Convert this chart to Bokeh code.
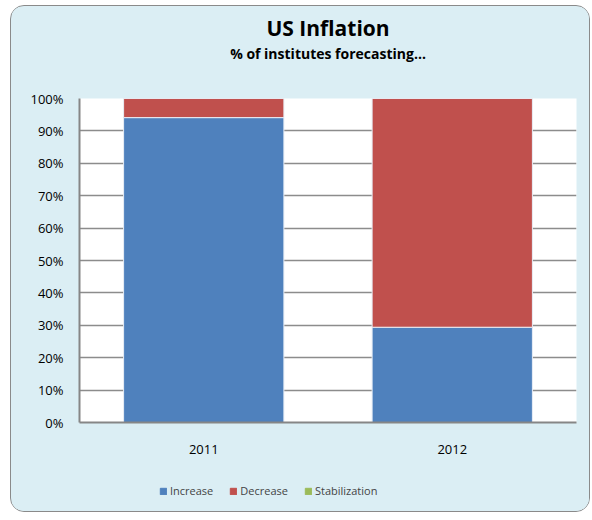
from bokeh.plotting import figure
from bokeh.layouts import column
from bokeh.models import FactorRange, Range1d, NumeralTickFormatter, Legend, LegendItem, Title, FixedTicker
from bokeh.embed import file_html
from bokeh.resources import INLINE

years = ["2011", "2012"]
increase = [0.941, 0.294]
decrease = [0.059, 0.706]
stabilization = [0.0, 0.0]
series = ["Increase", "Decrease", "Stabilization"]
colors = ["#4F81BD", "#C0504D", "#9BBB59"]
y_ticks = [0, 0.1, 0.2, 0.3, 0.4, 0.5, 0.6, 0.7, 0.8, 0.9, 1.0]

FONT = "Open Sans"
BG = "#DBEEF4"
data = {"years": years, "Increase": increase, "Decrease": decrease, "Stabilization": stabilization}

p = figure(x_range=FactorRange(*years, range_padding=0), y_range=Range1d(0, 1),
           frame_width=497, frame_height=324, output_backend="svg", toolbar_location=None,
           min_border_left=68, min_border_right=13, min_border_top=92, min_border_bottom=45,
           background_fill_color="white", border_fill_color=BG, outline_line_color=None)

p.vbar_stack(series, x="years", width=0.645, color=colors, line_color="#e8eef6", line_width=1, source=data)

p.add_layout(Title(text=" ", text_font=FONT, text_font_size="1px", standoff=33), "above")
p.add_layout(Title(text="% of institutes forecasting...", align="center", text_font=FONT,
                   text_font_size="14px", text_font_style="bold", text_color="black", standoff=0,
                   text_line_height=0.8), "above")
p.add_layout(Title(text="US Inflation", align="center", text_font=FONT,
                   text_font_size="21px", text_font_style="bold", text_color="black", standoff=0), "above")

p.yaxis.ticker = FixedTicker(ticks=y_ticks)
p.yaxis.formatter = NumeralTickFormatter(format="0%")
for ax in (p.xaxis[0], p.yaxis[0]):
    ax.axis_line_color = "#868686"
    ax.axis_line_width = 2
    ax.major_tick_line_color = None
    ax.minor_tick_line_color = None
    ax.major_label_text_font = FONT
    ax.major_label_text_font_size = "13px"
    ax.major_label_text_color = "black"
p.yaxis.major_label_standoff = 10
p.xaxis.major_label_standoff = 16

p.xgrid.grid_line_color = None
p.ygrid.grid_line_color = "#8c8c8c"
p.ygrid.grid_line_width = 1.5

# legend strip below the chart (bars kept outside its visible y range)
lg = figure(x_range=FactorRange(*years), y_range=Range1d(2, 3), width=578, height=44,
            output_backend="svg", toolbar_location=None, x_axis_location=None, y_axis_location=None,
            min_border=0, min_border_left=0, min_border_right=0, min_border_top=0, min_border_bottom=0,
            background_fill_color=BG, border_fill_color=BG, outline_line_color=None)
lg.grid.visible = False
lrs = lg.vbar_stack(series, x="years", width=0.645, color=colors, source=data)
legend = Legend(items=[LegendItem(label=s, renderers=[r]) for s, r in zip(series, lrs)],
                orientation="horizontal", location=(80, 13), background_fill_alpha=0,
                border_line_color=None, label_text_font=FONT, label_text_font_size="11px",
                glyph_width=8, glyph_height=8, label_standoff=3, spacing=16, padding=0,
                margin=0, label_height=12)
lg.add_layout(legend, "center")

layout = column(p, lg, spacing=0,
                styles={"border": "1px solid #8a8a8a", "border-radius": "14px", "overflow": "hidden",
                        "margin-left": "10px", "margin-top": "5px", "background-color": BG})

open("out.html", "w").write(file_html(layout, INLINE))
